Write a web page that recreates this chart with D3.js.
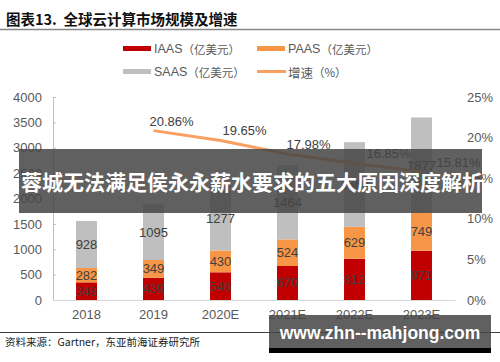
<!DOCTYPE html>
<html>
<head>
<meta charset="utf-8">
<script src="https://cdn.jsdelivr.net/npm/d3@7"></script>
<style>
  body { margin: 0; background: #fff; }
  svg { display: block; font-family: "Liberation Sans", Arial, "Noto Sans CJK SC", sans-serif; }
</style>
</head>
<body>
<div id="chart"></div>
<script>
// chart data
const years = ["2018", "2019", "2020E", "2021E", "2022E", "2023E"];
const iaas = [348, 439, 546, 670, 812, 971];
const paas = [282, 349, 430, 524, 629, 749];
const saas = [928, 1095, 1277, 1464, 1669, 1877];
const growthYears = ["2019", "2020E", "2021E", "2022E", "2023E"];
const growth = [20.86, 19.65, 17.98, 16.85, 15.81];
const leftTicks = [0, 500, 1000, 1500, 2000, 2500, 3000, 3500, 4000];
const rightTicks = [0, 5, 10, 15, 20, 25];

const width = 500;
const height = 362;
const plotLeft = 53;
const plotRight = 455;
const plotTop = 97;
const plotBottom = 300;
const cjk = '"Noto Sans CJK SC", sans-serif';
const textGray = "#595959";
const labelGray = "#404040";
const colors = { IAAS: "#C00000", PAAS: "#F79646", SAAS: "#BFBFBF" };
const lineColor = "#F9A060";

const svg = d3.select("#chart")
  .append("svg")
  .attr("width", width)
  .attr("height", height);

// title + rule
svg.append("text")
  .attr("x", 6)
  .attr("y", 18)
  .attr("dominant-baseline", "central")
  .style("font-family", cjk)
  .style("font-weight", "bold")
  .style("font-size", "14.5px")
  .attr("fill", "#111")
  .attr("xml:space", "preserve")
  .text("图表13.  全球云计算市场规模及增速");
svg.append("line")
  .attr("x1", 0).attr("x2", width)
  .attr("y1", 29.5).attr("y2", 29.5)
  .attr("stroke", "#888").attr("stroke-width", 1.5);

// scales
const x = d3.scaleBand()
  .domain(years)
  .range([plotLeft, plotRight])
  .paddingInner(0.687)
  .paddingOuter(0.3435);
const y = d3.scaleLinear().domain([0, 4000]).range([plotBottom, plotTop]);
const yr = d3.scaleLinear().domain([0, 25]).range([plotBottom, plotTop]);

// left axis
const gLeft = svg.append("g")
  .attr("transform", `translate(${plotLeft},0)`)
  .call(d3.axisLeft(y).tickValues(leftTicks).tickFormat(d3.format("d"))
    .tickSizeInner(-3).tickSizeOuter(-3).tickPadding(11));
gLeft.select(".domain").attr("stroke", "#BFBFBF");
gLeft.selectAll(".tick line").attr("stroke", "#BFBFBF");
gLeft.selectAll("text").attr("fill", textGray).style("font-size", "13px");

// right axis (labels only)
const gRight = svg.append("g")
  .attr("transform", `translate(467,0)`)
  .call(d3.axisRight(yr).tickValues(rightTicks).tickSize(0).tickPadding(0).tickFormat(d => d + "%"));
gRight.select(".domain").remove();
gRight.selectAll("text").attr("fill", textGray).style("font-size", "13px");

// stacked bars
const stackData = years.map((yr_, i) => ({ year: yr_, IAAS: iaas[i], PAAS: paas[i], SAAS: saas[i] }));
const series = d3.stack().keys(["IAAS", "PAAS", "SAAS"])(stackData);

const layers = svg.append("g")
  .selectAll("g")
  .data(series)
  .join("g")
  .attr("fill", d => colors[d.key]);
layers.selectAll("rect")
  .data(d => d)
  .join("rect")
  .attr("x", d => x(d.data.year))
  .attr("width", x.bandwidth())
  .attr("y", d => y(d[1]))
  .attr("height", d => y(d[0]) - y(d[1]));

// bar value labels
svg.append("g")
  .selectAll("g")
  .data(series)
  .join("g")
  .selectAll("text")
  .data(d => d.map(v => ({ v: v, key: d.key })))
  .join("text")
  .attr("x", d => x(d.v.data.year) + x.bandwidth() / 2)
  .attr("y", d => (y(d.v[0]) + y(d.v[1])) / 2)
  .attr("text-anchor", "middle")
  .attr("dominant-baseline", "central")
  .attr("fill", labelGray)
  .style("font-size", "13px")
  .text(d => d.v.data[d.key]);

// x baseline + labels
const gX = svg.append("g")
  .attr("transform", `translate(0,${plotBottom})`)
  .call(d3.axisBottom(x).tickSize(0).tickPadding(10));
gX.select(".domain").attr("stroke", "#D9D9D9");
gX.selectAll("text").attr("fill", textGray).style("font-size", "13px");

// growth line
const cx = d => x(d) + x.bandwidth() / 2;
const line = d3.line()
  .x((d, i) => cx(growthYears[i]))
  .y(d => yr(d));
svg.append("path")
  .datum(growth)
  .attr("fill", "none")
  .attr("stroke", lineColor)
  .attr("stroke-width", 3)
  .attr("d", line);

const labelDx = [-4, 2, -1, 12, 15];
svg.append("g")
  .selectAll("text")
  .data(growth)
  .join("text")
  .attr("x", (d, i) => cx(growthYears[i]) + labelDx[i])
  .attr("y", d => yr(d) - 9.5)
  .attr("dominant-baseline", "central")
  .attr("fill", labelGray)
  .style("font-size", "13px")
  .text(d => d.toFixed(2) + "%");

// legend
const legend = svg.append("g").style("font-size", "12.5px");
const legendItems = [
  { name: "IAAS", unit: "（亿美元）", x: 123, y: 48.5, type: "rect", color: colors.IAAS },
  { name: "PAAS", unit: "（亿美元）", x: 257, y: 48.5, type: "rect", color: colors.PAAS },
  { name: "SAAS", unit: "（亿美元）", x: 123, y: 71.5, type: "rect", color: colors.SAAS },
  { name: "增速", unit: "（%）", x: 257, y: 71.5, type: "line", color: lineColor }
];
legendItems.forEach(it => {
  if (it.type === "rect") {
    legend.append("rect")
      .attr("x", it.x).attr("y", it.y - 2.5)
      .attr("width", 28).attr("height", 5)
      .attr("fill", it.color);
  } else {
    legend.append("line")
      .attr("x1", it.x).attr("x2", it.x + 29)
      .attr("y1", it.y).attr("y2", it.y)
      .attr("stroke", it.color).attr("stroke-width", 3);
  }
  const t = legend.append("text")
    .attr("x", it.x + 31)
    .attr("y", it.y)
    .attr("dominant-baseline", "central")
    .attr("fill", textGray);
  t.append("tspan").style("font-family", it.name === "增速" ? cjk : null).text(it.name);
  t.append("tspan").style("font-family", cjk).style("font-size", "11.5px").text(it.unit);
});

// footer
svg.append("line")
  .attr("x1", 0).attr("x2", width)
  .attr("y1", 332.5).attr("y2", 332.5)
  .attr("stroke", "#404040").attr("stroke-width", 1);
svg.append("text")
  .attr("x", 5)
  .attr("y", 341)
  .attr("dominant-baseline", "central")
  .style("font-family", cjk)
  .style("font-size", "10.5px")
  .attr("fill", "#222")
  .text("资料来源：Gartner，东亚前海证券研究所");

// overlay banners
svg.append("rect")
  .attr("x", 19).attr("y", 149)
  .attr("width", 463).attr("height", 64)
  .attr("fill", "#444").attr("opacity", 0.85);
svg.append("text")
  .attr("x", 21)
  .attr("y", 181)
  .attr("dominant-baseline", "central")
  .style("font-family", cjk)
  .style("font-weight", "bold")
  .style("font-size", "21px")
  .attr("fill", "#fff")
  .text("蓉城无法满足侯永永薪水要求的五大原因深度解析");

svg.append("rect")
  .attr("x", 269).attr("y", 315)
  .attr("width", 222).attr("height", 33)
  .attr("fill", "#444").attr("opacity", 0.85);
svg.append("rect")
  .attr("x", 269).attr("y", 348)
  .attr("width", 222).attr("height", 5)
  .attr("fill", "#000");
svg.append("text")
  .attr("x", 380)
  .attr("y", 333)
  .attr("text-anchor", "middle")
  .attr("dominant-baseline", "central")
  .style("font-weight", "bold")
  .style("font-size", "17.5px")
  .attr("fill", "#fff")
  .text("www.zhn--mahjong.com");
</script>
</body>
</html>
